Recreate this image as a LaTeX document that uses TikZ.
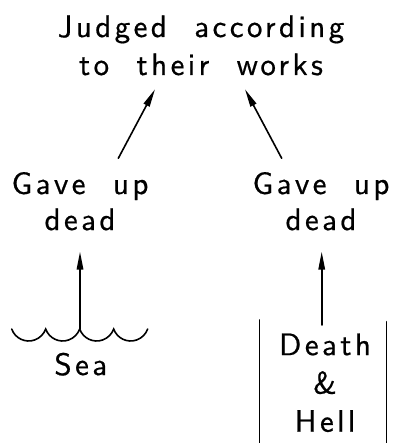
\documentclass[tikz,border=0pt]{standalone}
\usepackage{fontspec}
\newfontfamily\cadfont{lmsans10-regular.otf}[LetterSpace=11,WordSpace=2.0,FakeBold=0.6]
\usetikzlibrary{arrows.meta}
\tikzset{
  txt/.style={font=\cadfont\fontsize{31}{38}\selectfont, align=center, inner sep=0pt, anchor=base},
  ln/.style={line width=1.6pt, line cap=round},
  arr/.style={ln, -{Triangle[length=18pt,width=6.5pt]}}
}
\begin{document}
\begin{tikzpicture}[x=1pt,y=-1pt]
\path[use as bounding box] (0,0) rectangle (398,443);
% texts (base anchor = baseline of the last line)
\node[txt] (title) at (201,75) {Judged according\\to their works};
\node[txt, font=\cadfont\fontsize{31}{36}\selectfont] (gaveL) at (80,230) {Gave up\\dead};
\node[txt, font=\cadfont\fontsize{31}{36}\selectfont] (gaveR) at (321,230) {Gave up\\dead};
\node[txt] (sea) at (80.8,375) {Sea};
\node[txt, font=\cadfont\fontsize{31}{38.3}\selectfont] (dh) at (325,431.7) {Death\\\&\\Hell};
% connector ends
\coordinate (tLs) at (118.3,158.3);
\coordinate (tLe) at (155,89.3);
\coordinate (tRs) at (281.7,158.3);
\coordinate (tRe) at (245,89.3);
\coordinate (seaTop) at (80,329);
\coordinate (gLb) at (80,251.7);
\coordinate (dhTop) at (321.7,325);
\coordinate (gRb) at (321.7,251.7);
% arrows
\draw[arr] (tLs) -- (tLe);
\draw[arr] (tRs) -- (tRe);
\draw[arr] (seaTop) -- (gLb);
\draw[arr] (dhTop) -- (gRb);
% sea waves
\draw[ln] (11.7,329)
  arc[start angle=160.4,end angle=19.6,radius=18.04]
  arc[start angle=160.4,end angle=19.6,radius=18.04]
  arc[start angle=160.4,end angle=19.6,radius=18.04]
  arc[start angle=160.4,end angle=19.6,radius=18.04];
% death & hell walls
\draw[ln] (259.5,320) -- (259.5,443);
\draw[ln] (386.5,321.7) -- (386.5,443);
\end{tikzpicture}
\end{document}
